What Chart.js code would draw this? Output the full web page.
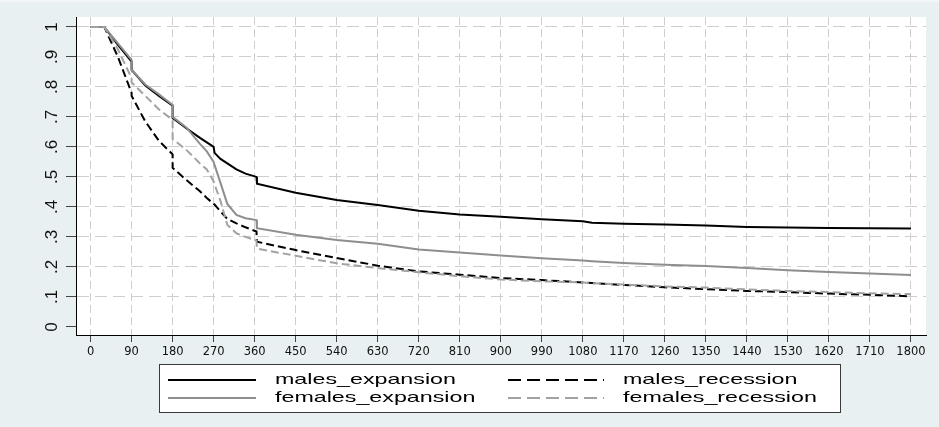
<!DOCTYPE html>
<html><head><meta charset="utf-8">
<script src="https://cdn.jsdelivr.net/npm/chart.js@4.4.1/dist/chart.umd.min.js"></script>
<style>html,body{margin:0;padding:0;background:#e8f0f2;}canvas{display:block;}</style>
</head><body>
<canvas id="c" width="939" height="427"></canvas>
<script>
// ---- data (days since start, survival share) ----
const days = [0, 30, 60, 90, 90, 120, 150, 180, 180, 210, 240, 255, 270, 272, 285, 300, 320, 340, 364, 365,
  450, 540, 630, 720, 810, 900, 990, 1080, 1100, 1170, 1260, 1350, 1440, 1530, 1620, 1710, 1800];
const malesExpansion = [1, 1, 0.94, 0.884, 0.857, 0.805, 0.77, 0.737, 0.696, 0.662, 0.63, 0.615, 0.600, 0.580, 0.560, 0.545, 0.525, 0.511, 0.500, 0.477,
  0.447, 0.423, 0.406, 0.387, 0.375, 0.367, 0.359, 0.352, 0.347, 0.344, 0.341, 0.338, 0.333, 0.331, 0.330, 0.329, 0.328];
const malesRecession = [1, 1, 0.90, 0.78, 0.77, 0.685, 0.62, 0.575, 0.53, 0.49, 0.452, 0.43, 0.41, 0.408, 0.385, 0.36, 0.345, 0.332, 0.318, 0.284,
  0.256, 0.23, 0.204, 0.185, 0.174, 0.163, 0.156, 0.148, 0.146, 0.14, 0.132, 0.126, 0.12, 0.116, 0.111, 0.107, 0.102];
const femalesExpansion = [1, 1, 0.945, 0.89, 0.857, 0.808, 0.775, 0.74, 0.70, 0.665, 0.61, 0.585, 0.55, 0.54, 0.48, 0.41, 0.373, 0.362, 0.356, 0.329,
  0.307, 0.29, 0.277, 0.258, 0.248, 0.238, 0.229, 0.221, 0.219, 0.213, 0.207, 0.203, 0.196, 0.189, 0.183, 0.178, 0.173];
const femalesRecession = [1, 1, 0.925, 0.829, 0.815, 0.77, 0.725, 0.69, 0.627, 0.59, 0.545, 0.525, 0.485, 0.475, 0.42, 0.34, 0.312, 0.30, 0.288, 0.261,
  0.237, 0.212, 0.196, 0.182, 0.169, 0.158, 0.152, 0.148, 0.146, 0.141, 0.135, 0.131, 0.125, 0.12, 0.116, 0.112, 0.109];
const seriesNames = ['males_expansion', 'males_recession', 'females_expansion', 'females_recession'];
const xTicks = [0, 90, 180, 270, 360, 450, 540, 630, 720, 810, 900, 990, 1080, 1170, 1260, 1350, 1440, 1530, 1620, 1710, 1800];
const xTickLabels = ['0','90','180','270','360','450','540','630','720','810','900','990','1080','1170','1260','1350','1440','1530','1620','1710','1800'];
const yTicks = [0, 0.1, 0.2, 0.3, 0.4, 0.5, 0.6, 0.7, 0.8, 0.9, 1];
const yTickLabels = ['0', '.1', '.2', '.3', '.4', '.5', '.6', '.7', '.8', '.9', '1'];

const BLACK = '#000000', GRAY = '#8e8e8e', LGRAY = '#a2a2a2';
const pts = vals => days.map((d, i) => ({x: d, y: vals[i]}));

const datasets = [
  {label: seriesNames[0], data: pts(malesExpansion), borderColor: BLACK, borderDash: [], order: 3},
  {label: seriesNames[1], data: pts(malesRecession), borderColor: BLACK, borderDash: [8, 4], order: 2},
  {label: seriesNames[2], data: pts(femalesExpansion), borderColor: GRAY, borderDash: [], order: 1},
  {label: seriesNames[3], data: pts(femalesRecession), borderColor: LGRAY, borderDash: [8, 4], order: 0}
].map(d => Object.assign(d, {borderWidth: 2, pointRadius: 0, tension: 0, fill: false}));

const bgPlugin = {
  id: 'bg',
  beforeDraw(chart) {
    const {ctx, chartArea: a} = chart;
    ctx.save();
    ctx.fillStyle = '#e8f0f2';
    ctx.fillRect(0, 0, chart.width, chart.height);
    ctx.fillStyle = '#f3f7f8';
    ctx.fillRect(0, 0, chart.width, 2);
    ctx.fillStyle = '#ffffff';
    ctx.fillRect(a.left, a.top, a.right - a.left, a.bottom - a.top);
    ctx.restore();
  }
};

const yLabelPlugin = {
  id: 'ylabels',
  afterDraw(chart) {
    const {ctx} = chart;
    const ys = chart.scales.y;
    ctx.save();
    ctx.fillStyle = '#111';
    ctx.font = '17px "Liberation Sans", Arial, sans-serif';
    ctx.textAlign = 'center';
    ctx.textBaseline = 'middle';
    yTicks.forEach((v, i) => {
      const py = ys.getPixelForValue(v);
      ctx.save();
      ctx.translate(52.5, py);
      ctx.rotate(-Math.PI / 2);
      ctx.fillText(yTickLabels[i], 0, 0);
      ctx.restore();
    });
    ctx.restore();
  }
};

const legendPlugin = {
  id: 'boxlegend',
  afterDraw(chart) {
    const {ctx} = chart;
    const ds = chart.data.datasets;
    ctx.save();
    ctx.fillStyle = '#ffffff';
    ctx.fillRect(159.5, 364.5, 681, 48);
    ctx.strokeStyle = '#3a3a3a';
    ctx.lineWidth = 1;
    ctx.strokeRect(159.5, 364.5, 681, 48);
    const cols = [{x1: 168, x2: 256, tx: 275}, {x1: 508, x2: 604, tx: 623}];
    const rows = [380, 398];
    ds.forEach((d, i) => {
      const c = cols[i % 2], r = rows[Math.floor(i / 2)];
      ctx.save();
      ctx.strokeStyle = d.borderColor;
      ctx.lineWidth = 2;
      ctx.setLineDash(d.borderDash.length ? [13, 6] : []);
      ctx.beginPath();
      ctx.moveTo(c.x1, r);
      ctx.lineTo(c.x2, r);
      ctx.stroke();
      ctx.restore();
      ctx.save();
      ctx.fillStyle = '#000';
      ctx.font = '15px "Liberation Sans", Arial, sans-serif';
      ctx.textBaseline = 'middle';
      ctx.translate(c.tx, r);
      ctx.scale(1.55, 1);
      ctx.fillText(d.label, 0, 0);
      ctx.restore();
    });
    ctx.restore();
  }
};

new Chart(document.getElementById('c'), {
  type: 'line',
  data: {datasets},
  options: {
    responsive: false,
    animation: false,
    devicePixelRatio: 1,
    layout: {padding: {left: 0, right: 13, top: 17, bottom: 0}},
    plugins: {legend: {display: false}, tooltip: {enabled: false}},
    scales: {
      x: {
        type: 'linear', min: -32, max: 1833,
        afterBuildTicks: s => { s.ticks = xTicks.map(v => ({value: v})); },
        afterFit: s => { s.height = 92; },
        ticks: {
          autoSkip: false, maxRotation: 0, minRotation: 0, padding: 3,
          color: '#111', font: {family: '"DejaVu Sans", sans-serif', size: 11.5},
          callback: (v, i) => xTickLabels[i]
        },
        grid: {color: '#cfcfcf', lineWidth: 1, tickLength: 7, tickColor: '#444', tickWidth: 1, tickBorderDash: []},
        border: {display: true, color: '#000', width: 1, dash: [8, 4]}
      },
      y: {
        type: 'linear', min: -0.027, max: 1.033,
        afterBuildTicks: s => { s.ticks = yTicks.map(v => ({value: v})); },
        afterFit: s => { s.width = 76; },
        ticks: {display: false},
        grid: {
          color: c => (c.tick && c.tick.value === 0) ? 'rgba(0,0,0,0)' : '#cfcfcf',
          lineWidth: 1, tickLength: 10, tickColor: '#444', tickWidth: 1, tickBorderDash: []
        },
        border: {display: true, color: '#000', width: 1, dash: [12, 6]}
      }
    }
  },
  plugins: [bgPlugin, yLabelPlugin, legendPlugin]
});
</script>
</body></html>
